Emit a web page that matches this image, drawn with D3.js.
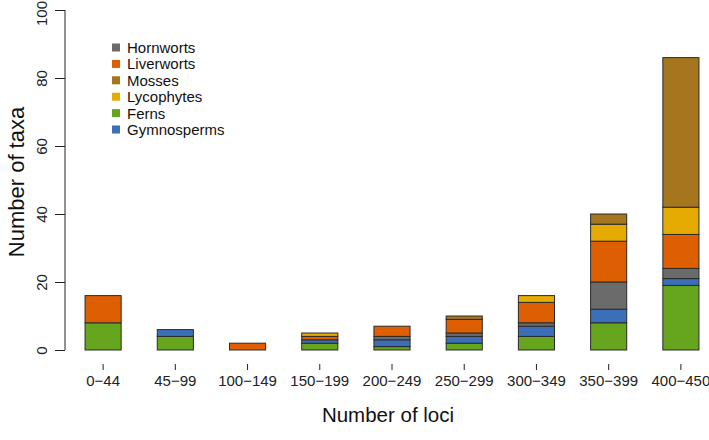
<!DOCTYPE html>
<html><head><meta charset="utf-8">
<script src="https://cdn.jsdelivr.net/npm/d3@7"></script>
<style>body{margin:0;background:#fff}svg{display:block;font-family:"Liberation Sans",Arial,sans-serif}</style>
</head><body><svg id="c" width="709" height="440"></svg>
<script>
const categories = ["0\u221244","45\u221299","100\u2212149","150\u2212199","200\u2212249","250\u2212299","300\u2212349","350\u2212399","400\u2212450"];
const ferns       = [8, 4, 0, 2, 1, 2, 4, 8, 19];
const gymnosperms = [0, 2, 0, 1, 2, 2, 3, 4, 2];
const hornworts   = [0, 0, 0, 0, 1, 1, 1, 8, 3];
const liverworts  = [8, 0, 2, 1, 3, 4, 6, 12, 10];
const lycophytes  = [0, 0, 0, 1, 0, 0, 2, 5, 8];
const mosses      = [0, 0, 0, 0, 0, 1, 0, 3, 44];
const yTicks = [0, 20, 40, 60, 80, 100];

const stackOrder = ["Ferns","Gymnosperms","Hornworts","Liverworts","Lycophytes","Mosses"];
const seriesData = {Ferns:ferns,Gymnosperms:gymnosperms,Hornworts:hornworts,Liverworts:liverworts,Lycophytes:lycophytes,Mosses:mosses};
const colors = {Hornworts:"#6b6b6b",Liverworts:"#dd5f02",Mosses:"#a5761d",Lycophytes:"#e6ab02",Ferns:"#66a61e",Gymnosperms:"#3b6fb8"};
const legendOrder = ["Hornworts","Liverworts","Mosses","Lycophytes","Ferns","Gymnosperms"];

const rows = categories.map((c,i)=>{const r={cat:c};stackOrder.forEach(k=>r[k]=seriesData[k][i]);return r;});
const stacked = d3.stack().keys(stackOrder)(rows);

const svg = d3.select("#c");
const y = d3.scaleLinear().domain([0,100]).range([350,10]);
const x = d3.scaleBand().domain(categories).range([67,717]).paddingInner(0.5).paddingOuter(0.25);

// bars
svg.append("g").selectAll("g").data(stacked).join("g")
  .attr("fill", d=>colors[d.key])
  .selectAll("rect").data(d=>d.filter(p=>p[1]-p[0]>0)).join("rect")
  .attr("x", d=>x(d.data.cat)).attr("width", x.bandwidth())
  .attr("y", d=>y(d[1])).attr("height", d=>y(d[0])-y(d[1]))
  .attr("stroke","#2a2a2a").attr("stroke-width",1);

// y axis
const ya = svg.append("g").attr("transform","translate(65,0)")
  .call(d3.axisLeft(y).tickValues(yTicks).tickSize(10).tickPadding(0).tickFormat(d3.format("d")));
ya.select(".domain").attr("d","M0,"+y(0)+"V"+y(100)).attr("stroke","#222");
ya.selectAll(".tick line").attr("stroke","#222");
ya.selectAll(".tick text").attr("font-size",15).attr("fill","#222")
  .attr("x",0).attr("dy",null).attr("text-anchor","middle")
  .attr("transform",d=>`translate(-18,${d===100?3:0}) rotate(-90)`);

// x axis (ticks, no line)
const xa = svg.append("g").attr("transform","translate(0,364)")
  .call(d3.axisBottom(x).tickSize(6).tickPadding(5));
xa.select(".domain").remove();
xa.selectAll(".tick line").attr("stroke","#222");
xa.selectAll(".tick text").attr("font-size",15).attr("fill","#222");

// titles
svg.append("text").attr("x",388).attr("y",422).attr("text-anchor","middle")
  .attr("font-size",20.5).attr("fill","#111").text("Number of loci");
svg.append("text").attr("transform","translate(16,182) rotate(-90)").attr("text-anchor","middle")
  .attr("dominant-baseline","central").attr("font-size",22).attr("fill","#111").text("Number of taxa");

// legend
const lg = svg.append("g").selectAll("g").data(legendOrder).join("g")
  .attr("transform",(d,i)=>`translate(112,${47.5+i*16.4})`);
lg.append("rect").attr("x",0).attr("y",-4).attr("width",8).attr("height",8).attr("fill",d=>colors[d]);
lg.append("text").attr("x",15).attr("y",0).attr("dominant-baseline","central")
  .attr("font-size",15).attr("fill","#111").text(d=>d);
</script></body></html>
